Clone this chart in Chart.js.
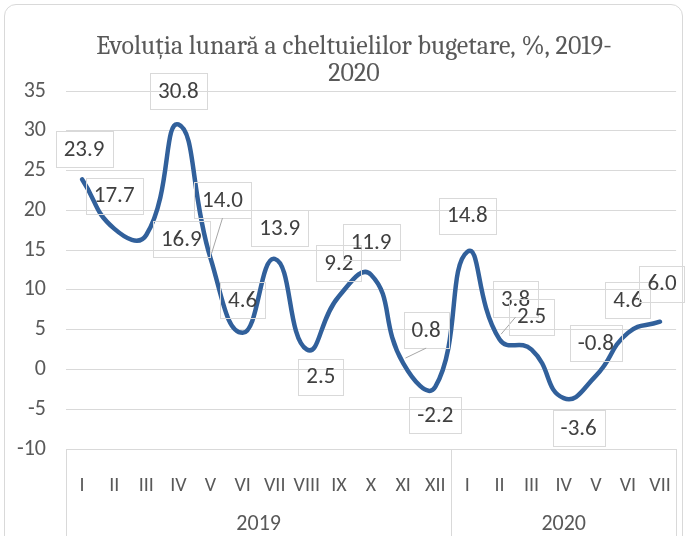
<!DOCTYPE html>
<html>
<head>
<meta charset="utf-8">
<script src="https://cdn.jsdelivr.net/npm/chart.js@4.4.1/dist/chart.umd.min.js"></script>
<style>
  html, body { margin: 0; padding: 0; background: #fff; }
  #wrap { position: relative; width: 688px; height: 536px; overflow: hidden; }
  #frame { position: absolute; left: 4px; top: 4px; width: 679px; height: 580px;
           border: 1px solid #d9d9d9; border-radius: 12px; box-sizing: border-box; }
  #chart { position: absolute; left: 0; top: 0; }
</style>
</head>
<body>
<div id="wrap">
  <div id="frame"></div>
  <canvas id="chart" width="688" height="536"></canvas>
</div>
<script>
// months of the two years
const months = ['I', 'II', 'III', 'IV', 'V', 'VI', 'VII', 'VIII', 'IX', 'X', 'XI', 'XII',
                'I', 'II', 'III', 'IV', 'V', 'VI', 'VII'];
const years = ['2019', '2020'];
const monthsPerYear = [12, 7];
// evolutia lunara, %
const values = [23.9, 17.7, 16.9, 30.8, 14.0, 4.6, 13.9, 2.5, 9.2, 11.9, 0.8, -2.2,
                14.8, 3.8, 2.5, -3.6, -0.8, 4.6, 6.0];
const titleLines = ['Evoluția lunară a cheltuielilor bugetare, %, 2019-', '2020'];

const SANS = 'Carlito, "Liberation Sans", sans-serif';
const SERIF = 'Caladea, "Liberation Serif", serif';
const GREY = '#595959';
const GRID = '#d9d9d9';

// where each label box sits relative to its point (Excel moved some by hand)
const labelNudge = {
  0: [2, -30], 2: [35, 4], 4: [12, -58, true], 6: [5, -31], 7: [14, 27],
  10: [23, -33, true], 11: [0, 28], 12: [0, -36], 13: [16, -40, true],
  15: [15, 30], 18: [2, -38]
};

const boxLabels = {
  id: 'boxLabels',
  afterDatasetsDraw(chart) {
    const ctx = chart.ctx;
    const meta = chart.getDatasetMeta(0);
    ctx.save();
    ctx.font = '23px ' + SANS;
    ctx.textAlign = 'center';
    ctx.textBaseline = 'middle';
    meta.data.forEach((pt, i) => {
      const txt = values[i].toFixed(1);
      const n = labelNudge[i] || [0, -33];
      const cx = pt.x + n[0], cy = pt.y + n[1];
      const w = ctx.measureText(txt).width + 16, h = 36;
      ctx.strokeStyle = GRID;
      ctx.lineWidth = 1;
      ctx.strokeRect(Math.round(cx - w / 2) + 0.5, Math.round(cy - h / 2) + 0.5, Math.round(w), h);
      if (n[2]) {
        ctx.strokeStyle = '#a6a6a6';
        ctx.beginPath();
        ctx.moveTo(cx, cy + h / 2);
        ctx.lineTo(pt.x + (cx - pt.x) * 0.1, pt.y - 5);
        ctx.stroke();
      }
      ctx.fillStyle = '#404040';
      ctx.fillText(txt, cx, cy + 1);
    });
    ctx.restore();
  }
};

// title sits a little right of the canvas centre, like the Excel original
const chartTitle = {
  id: 'chartTitle',
  afterDraw(chart) {
    const ctx = chart.ctx;
    ctx.save();
    ctx.fillStyle = GREY;
    ctx.font = '26px ' + SERIF;
    ctx.textAlign = 'center';
    ctx.textBaseline = 'middle';
    titleLines.forEach((line, i) => ctx.fillText(line, (chart.width + 20) / 2, 47 + i * 27));
    ctx.restore();
  }
};

const yearAxis = {
  id: 'yearAxis',
  afterDraw(chart) {
    const ctx = chart.ctx;
    const xs = chart.scales.x;
    const area = chart.chartArea;
    const bottom = chart.height;
    ctx.save();
    ctx.strokeStyle = GRID;
    ctx.lineWidth = 1;
    let start = 0;
    const edges = [area.left];
    years.forEach((yr, k) => {
      const end = start + monthsPerYear[k] - 1;
      const half = (xs.getPixelForValue(1) - xs.getPixelForValue(0)) / 2;
      const x0 = xs.getPixelForValue(start) - half;
      const x1 = xs.getPixelForValue(end) + half;
      edges.push(x1);
      ctx.fillStyle = GREY;
      ctx.font = '22px ' + SANS;
      ctx.textAlign = 'center';
      ctx.textBaseline = 'middle';
      ctx.fillText(yr, (x0 + x1) / 2, 524);
      start = end + 1;
    });
    edges.forEach(x => {
      const px = Math.round(x) + 0.5;
      ctx.beginPath();
      ctx.moveTo(px, area.bottom);
      ctx.lineTo(px, bottom);
      ctx.stroke();
    });
    ctx.restore();
  }
};

new Chart(document.getElementById('chart').getContext('2d'), {
  type: 'line',
  data: {
    labels: months,
    datasets: [{
      label: 'Evoluția lunară',
      data: values,
      borderColor: '#31609b',
      borderWidth: 4.5,
      pointRadius: 0,
      fill: false,
      tension: 0.5,
      borderCapStyle: 'round'
    }]
  },
  options: {
    responsive: false,
    animation: false,
    layout: { padding: { left: 0, right: 10, top: 91, bottom: 0 } },
    plugins: {
      legend: { display: false },
      tooltip: { enabled: false },
      title: { display: false }
    },
    scales: {
      x: {
        offset: true,
        grid: { display: false },
        border: { display: false },
        ticks: {
          color: GREY,
          font: { family: SANS, size: 20 },
          autoSkip: false,
          maxRotation: 0,
          minRotation: 0,
          padding: 17
        },
        afterFit(scale) { scale.height = 87; }
      },
      y: {
        min: -10,
        max: 35,
        ticks: {
          stepSize: 5,
          color: GREY,
          font: { family: SANS, size: 22 },
          padding: 20
        },
        grid: { color: GRID, drawTicks: false },
        border: { display: false },
        afterFit(scale) { scale.width = 66; }
      }
    }
  },
  plugins: [boxLabels, yearAxis, chartTitle]
});
</script>
</body>
</html>
